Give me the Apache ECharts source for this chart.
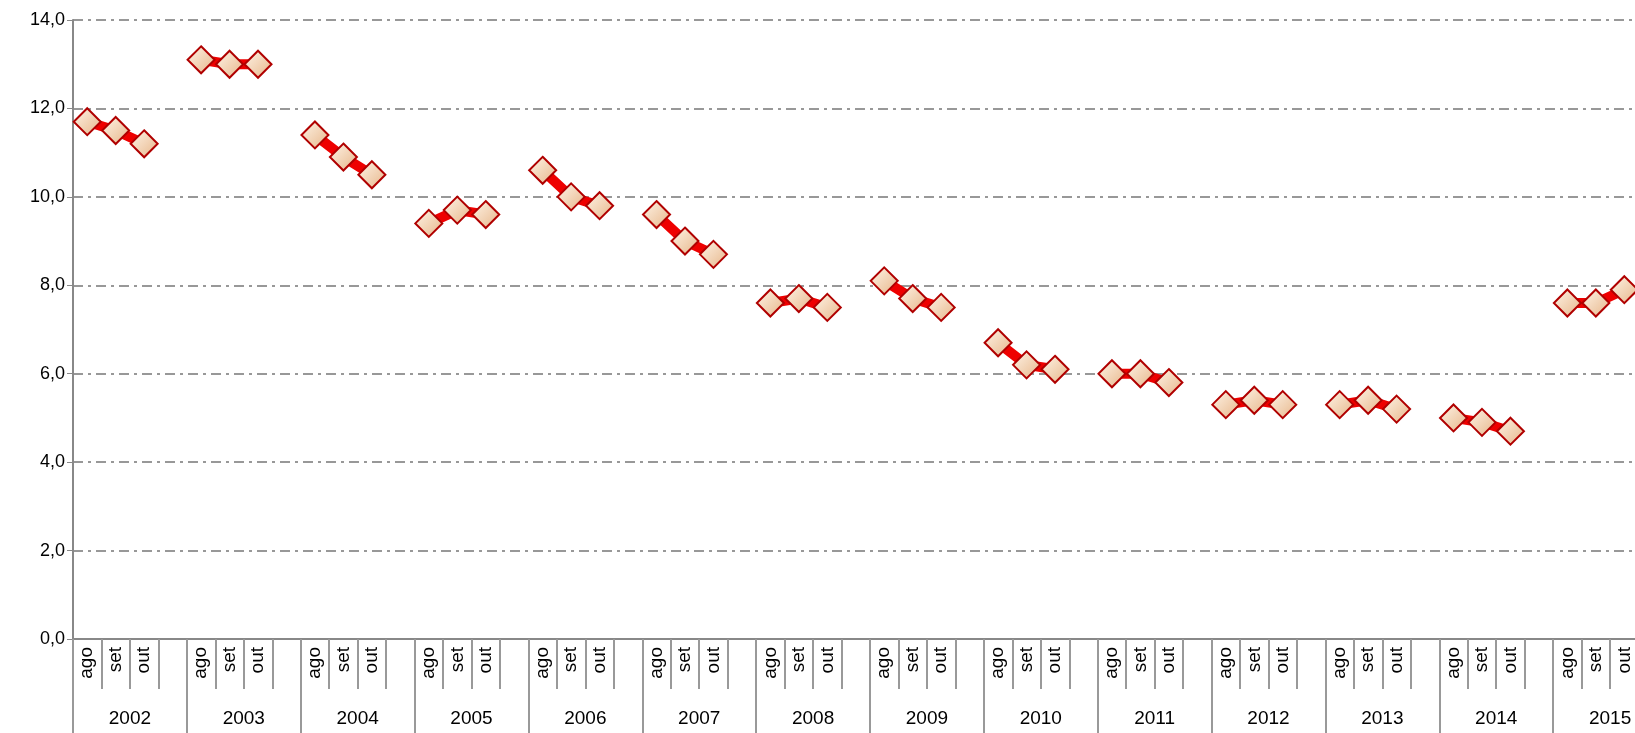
<!DOCTYPE html>
<html lang="pt">
<head>
    <meta charset="UTF-8">
    <title>Chart</title>
    <script src="https://cdn.jsdelivr.net/npm/echarts@6/dist/echarts.min.js"></script>
    <style>
        *{margin:0;padding:0;}
        .container{width:1635px;height:733px;}
    </style>
</head>
<body>
<div class="container"></div>
<script>
    let years=['2002','2003','2004','2005','2006','2007','2008','2009','2010','2011','2012','2013','2014','2015']
    let months=['ago','set','out']
    let values=[
        [11.7,11.5,11.2],[13.1,13.0,13.0],[11.4,10.9,10.5],[9.4,9.7,9.6],
        [10.6,10.0,9.8],[9.6,9.0,8.7],[7.6,7.7,7.5],[8.1,7.7,7.5],
        [6.7,6.2,6.1],[6.0,6.0,5.8],[5.3,5.4,5.3],[5.3,5.4,5.2],
        [5.0,4.9,4.7],[7.6,7.6,7.9]
    ]

    let slots=[], data=[]
    years.forEach((y,i)=>{
        months.forEach((m,j)=>{slots.push(m); data.push(values[i][j])})
        slots.push(''); data.push(null)
    })

    let echart=echarts.init(document.querySelector('.container'))
    let font='"Liberation Sans", Arial, sans-serif'
    echart.setOption({
        animation:false,
        grid:{left:73,width:1594,top:20,bottom:94,outerBoundsMode:'none',containLabel:false},
        xAxis:[{
            type:'category',data:slots,boundaryGap:true,
            axisLine:{lineStyle:{color:'#888',width:2}},
            axisTick:{show:true,interval:0,length:50,lineStyle:{color:'#999',width:2}},
            axisLabel:{interval:0,rotate:90,color:'#000',fontSize:19,fontFamily:font,margin:8}
        },{
            type:'category',data:years,position:'bottom',boundaryGap:true,
            axisLine:{show:false},
            axisTick:{show:true,interval:0,length:94,lineStyle:{color:'#999',width:2}},
            axisLabel:{interval:0,color:'#000',fontSize:19,fontFamily:font,margin:70}
        }],
        yAxis:{
            type:'value',min:0,max:14,interval:2,
            axisLine:{show:true,lineStyle:{color:'#888',width:2}},
            axisTick:{show:true,length:6,lineStyle:{color:'#888'}},
            axisLabel:{color:'#000',fontSize:18,fontFamily:font,formatter:v=>v.toFixed(1).replace('.',',')},
            splitLine:{lineStyle:{color:'#777',width:1.5,type:[10,5,3,5]}}
        },
        series:[{
            type:'line',data,connectNulls:false,
            lineStyle:{color:'#ee0000',width:10},
            symbol:'diamond',symbolSize:27,
            itemStyle:{
                borderColor:'#b00000',borderWidth:2,
                color:new echarts.graphic.LinearGradient(0,0,1,1,[
                    {offset:0,color:'#fff6ea'},{offset:1,color:'#e6b487'}])
            }
        }]
    })
</script>
</body>
</html>
